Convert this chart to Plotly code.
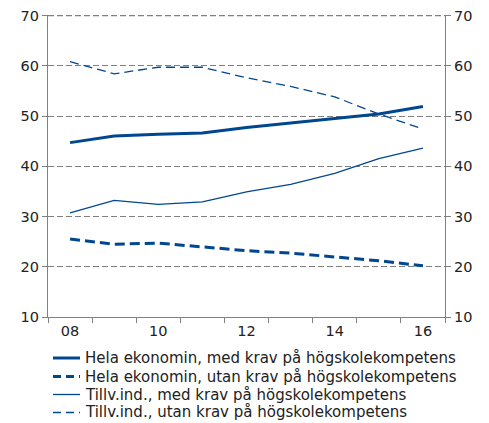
import plotly.graph_objects as go

years = [8, 9, 10, 11, 12, 13, 14, 15, 16]
tick_labels = ["08", "10", "12", "14", "16"]
tick_years = [8, 10, 12, 14, 16]
y_ticks = [10, 20, 30, 40, 50, 60, 70]

hela_med = [44.7, 46.0, 46.35, 46.6, 47.7, 48.6, 49.5, 50.4, 51.9]
hela_utan = [25.5, 24.5, 24.7, 24.0, 23.2, 22.7, 22.0, 21.2, 20.2]
tillv_med = [30.7, 33.2, 32.4, 32.9, 34.9, 36.4, 38.6, 41.5, 43.6]
tillv_utan = [60.8, 58.4, 59.7, 59.7, 57.6, 55.9, 53.8, 50.4, 47.4]

names = [
    "Hela ekonomin, med krav på högskolekompetens",
    "Hela ekonomin, utan krav på högskolekompetens",
    "Tillv.ind., med krav på högskolekompetens",
    "Tillv.ind., utan krav på högskolekompetens",
]

C = "#00478f"
FONT = "DejaVu Sans, Verdana, sans-serif"
W, H = 489, 423
OFF = 8  # default page body margin
# target plot box in page pixels: x 48..445, y 15..317
ML, MT = 48 - OFF, 15 - OFF
MR = W - (445 - OFF)
MB = H - (317 - OFF)
PW, PH = W - ML - MR, H - MT - MB
GRAY = "#808080"

fig = go.Figure()
styles = [(3, "solid"), (3, "10px,5px"), (1.3, "solid"), (1.3, "9px,5px")]
for vals, name, (w, d) in zip([hela_med, hela_utan, tillv_med, tillv_utan], names, styles):
    fig.add_trace(go.Scatter(x=years, y=vals, name=name, mode="lines",
                             line=dict(color=C, width=w, dash=d), showlegend=False))

# invisible trace for right axis
fig.add_trace(go.Scatter(x=years, y=hela_med, yaxis="y2", showlegend=False,
                         mode="lines", line=dict(color="rgba(0,0,0,0)"), hoverinfo="skip"))

# top gridline at the last y tick
fig.add_shape(type="line", xref="paper", yref="y", x0=0, x1=1,
              y0=y_ticks[-1], y1=y_ticks[-1], layer="below",
              line=dict(color=GRAY, width=1.4, dash="6px,3px"))

# manual legend below the plot (rows in page pixels)
legend_rows_px = [358, 376.5, 394.5, 412.5]
leg_dash = ["solid", "8px,5px", "solid", "8px,5px"]
for name, (w, _), d, py in zip(names, styles, leg_dash, legend_rows_px):
    yp = (317 - py) / PH
    fig.add_shape(type="line", xref="paper", yref="paper",
                  x0=(53 - 48) / PW, x1=(80 - 48) / PW, y0=yp, y1=yp,
                  line=dict(color=C, width=w, dash=d))
    fig.add_annotation(xref="paper", yref="paper", x=(83 - 48) / PW, y=yp,
                       text=name, showarrow=False, xanchor="left", yanchor="middle",
                       font=dict(family=FONT, size=15, color="#222"))

axfont = dict(family=FONT, size=14.5, color="#222")
YR = [10, 70.1]
fig.update_layout(
    width=W, height=H,
    margin=dict(l=ML, r=MR, t=MT, b=MB, autoexpand=False),
    paper_bgcolor="white", plot_bgcolor="white",
    font=axfont,
    showlegend=False,
    xaxis=dict(range=[7.5, 16.5], tickvals=tick_years, ticktext=tick_labels,
               ticks="", showgrid=False, showline=True, linecolor=GRAY, linewidth=1.2,
               zeroline=False, tickfont=axfont,
               minor=dict(tickvals=[7.5 + i for i in range(10)], ticks="outside",
                          ticklen=5, tickcolor=GRAY, tickwidth=1.2, showgrid=False)),
    yaxis=dict(range=YR, tickvals=y_ticks, ticks="outside",
               ticklen=5, tickcolor=GRAY, tickwidth=1.2, ticklabeloverflow="allow",
               showline=True, linecolor=GRAY, linewidth=1.2,
               showgrid=True, gridcolor=GRAY, griddash="6px,3px", gridwidth=1.4,
               zeroline=False, tickfont=axfont),
    yaxis2=dict(range=YR, tickvals=y_ticks, overlaying="y",
                side="right", ticklabeloverflow="allow",
                ticks="outside", ticklen=5, tickcolor=GRAY, tickwidth=1.2,
                showline=True, linecolor=GRAY, linewidth=1.2,
                showgrid=False, zeroline=False, tickfont=axfont),
)

fig.write_html("out.html")
